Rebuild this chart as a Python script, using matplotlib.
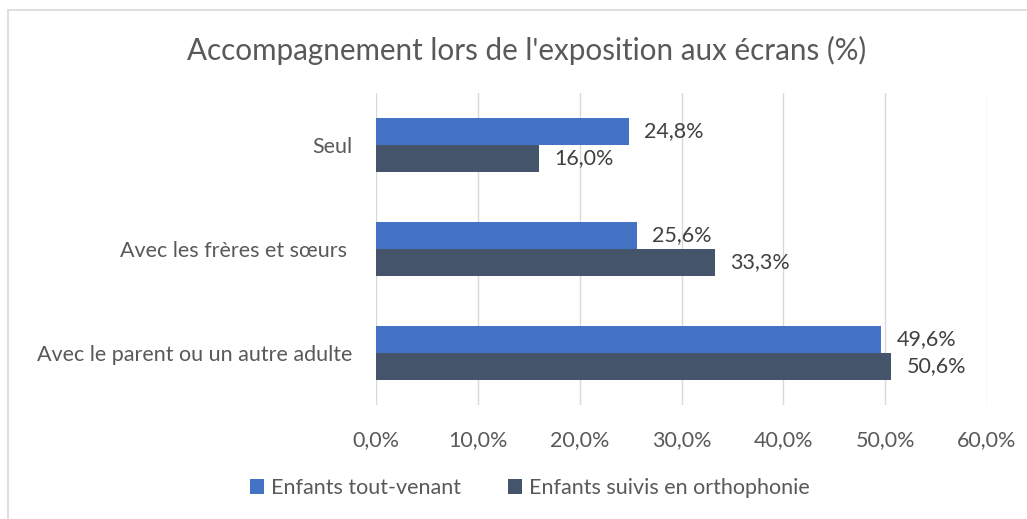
import matplotlib.pyplot as plt
import matplotlib.lines as mlines
from matplotlib.transforms import offset_copy

categories = ['Seul', 'Avec les frères et sœurs ', 'Avec le parent ou un autre adulte']
tout_venant = [24.8, 25.6, 49.6]
orthophonie = [16.0, 33.3, 50.6]
series_names = ['Enfants tout-venant', 'Enfants suivis en orthophonie']
ticks = [0, 10, 20, 30, 40, 50, 60]

blue = '#4472C4'
dark = '#44546A'
grid_c = '#D9D9D9'
txt = '#595959'

plt.rcParams['font.family'] = ['Lato', 'DejaVu Sans']

fig = plt.figure(figsize=(10.27, 5.19), dpi=100)
ax = fig.add_axes([376 / 1027, 1 - 405 / 519, 611 / 1027, 312 / 519])

pos = list(range(len(categories)))
h = 0.26
b1 = ax.barh([p - h / 2 for p in pos], tout_venant, height=h, color=blue, label=series_names[0], zorder=3)
b2 = ax.barh([p + h / 2 for p in pos], orthophonie, height=h, color=dark, label=series_names[1], zorder=3)

lab_tr = offset_copy(ax.transData, fig=fig, x=11, y=0, units='points')
for bars, vals in ((b1, tout_venant), (b2, orthophonie)):
    for bar, v in zip(bars, vals):
        ax.text(v, bar.get_y() + bar.get_height() / 2, f'{v:.1f}%'.replace('.', ','),
                va='center', ha='left', fontsize=15.5, color='#404040', transform=lab_tr)

ax.set_xlim(0, 60)
ax.set_ylim(2.5, -0.5)
ax.set_xticks(ticks)
ax.set_xticklabels([f'{t:.1f}%'.replace('.', ',') for t in ticks], fontsize=15.5, color=txt)
ax.set_yticks(pos)
ax.set_yticklabels(categories, fontsize=15.5, color=txt)
ax.tick_params(axis='both', length=0)
ax.tick_params(axis='x', pad=18)
ax.tick_params(axis='y', pad=17)
ax.grid(axis='x', color=grid_c, linewidth=1, zorder=0)
for s in ax.spines.values():
    s.set_visible(False)

fig.text(0.513, 1 - 50 / 519, "Accompagnement lors de l'exposition aux écrans (%)",
         ha='center', va='center', fontsize=21.3, color=txt)

fig.legend(handles=[b1, b2], loc='center', bbox_to_anchor=(0.516, 1 - 488 / 519), ncol=2,
           frameon=False, fontsize=15.5, labelcolor=txt, handlelength=0.65, handleheight=0.65,
           handletextpad=0.3, columnspacing=2.2)

fig.add_artist(mlines.Line2D([8 / 1027, 8 / 1027], [0, 1 - 10 / 519], transform=fig.transFigure, color=grid_c, lw=1.2))
fig.add_artist(mlines.Line2D([8 / 1027, 1], [1 - 10 / 519, 1 - 10 / 519], transform=fig.transFigure, color=grid_c, lw=1.2))

fig.savefig('out.png', dpi=100)
